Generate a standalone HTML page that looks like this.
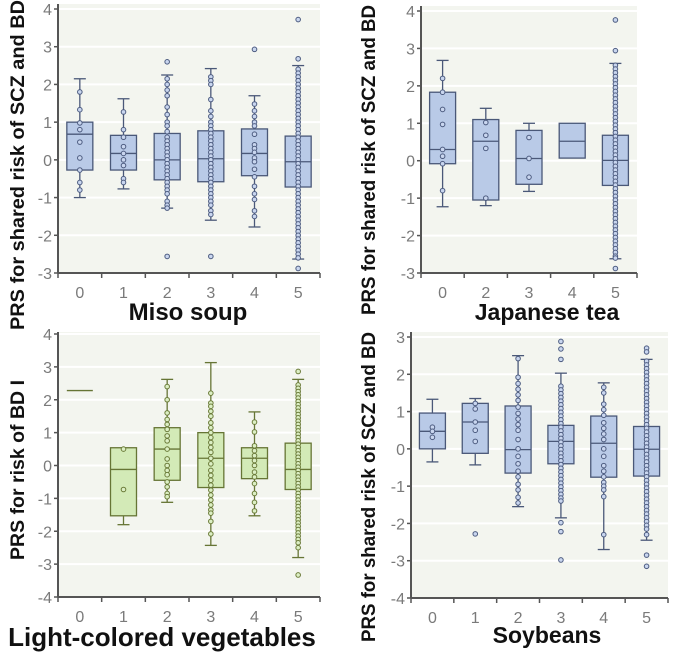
<!DOCTYPE html>
<html><head><meta charset="utf-8"><style>
html,body{margin:0;padding:0;background:#fff;width:675px;height:652px;overflow:hidden}
svg{display:block;font-family:"Liberation Sans",sans-serif}
</style></head><body>
<svg id="chart" width="675" height="652" viewBox="0 0 675 652"></svg>
<script>
// ---- Miso soup ----
const misoCats=["0","1","2","3","4","5"];
const misoQ1=[-0.27,-0.27,-0.53,-0.58,-0.42,-0.72];
const misoMed=[0.68,0.17,0.0,0.03,0.17,-0.05];
const misoQ3=[1.0,0.65,0.7,0.77,0.82,0.63];
const misoLo=[-1.0,-0.77,-1.28,-1.6,-1.78,-2.63];
const misoHi=[2.15,1.62,2.25,2.42,1.7,2.5];
const misoPts=[
[1.8,1.33,0.98,0.8,0.47,0.05,-0.27,-0.6,-0.8],
[1.27,0.8,0.6,0.35,0.17,0.0,-0.15,-0.5,-0.6],
[2.6,2.15,2.0,1.85,1.7,1.4,1.2,1.0,0.9,0.75,0.6,0.5,0.4,0.3,0.2,0.1,0.0,-0.1,-0.2,-0.3,-0.4,-0.5,-0.6,-0.7,-0.8,-0.9,-1.1,-1.2,-1.28,-2.56],
[2.2,2.1,2.0,1.6,1.3,1.15,1.0,0.9,0.8,0.7,0.6,0.5,0.4,0.3,0.2,0.1,0.0,-0.1,-0.2,-0.3,-0.4,-0.5,-0.6,-0.7,-0.8,-0.9,-1.0,-1.1,-1.2,-1.35,-1.45,-2.56],
[2.93,1.48,1.3,1.15,1.0,0.9,0.68,0.4,0.3,0.2,0.05,-0.05,-0.25,-0.45,-0.7,-0.9,-1.05,-1.35,-1.5],
[3.72,2.68,2.4,2.3,2.2,2.1,2.0,1.9,1.8,1.7,1.6,1.5,1.4,1.3,1.2,1.1,1.0,0.9,0.8,0.7,0.6,0.5,0.4,0.3,0.2,0.1,0.0,-0.1,-0.2,-0.3,-0.4,-0.5,-0.6,-0.7,-0.8,-0.9,-1.0,-1.1,-1.2,-1.3,-1.4,-1.5,-1.6,-1.7,-1.8,-1.9,-2.0,-2.1,-2.2,-2.3,-2.4,-2.5,-2.6,-2.88]];
const misoTicks=[4,3,2,1,0,-1,-2,-3];
// ---- Japanese tea ----
const teaCats=["0","2","3","4","5"];
const teaQ1=[-0.08,-1.05,-0.63,0.07,-0.66];
const teaMed=[0.3,0.52,0.06,0.52,0.01];
const teaQ3=[1.83,1.1,0.81,1.0,0.68];
const teaLo=[-1.23,-1.2,-0.82,0.07,-2.62];
const teaHi=[2.68,1.4,1.0,1.0,2.6];
const teaPts=[
[2.2,1.83,1.37,0.97,0.3,0.12,-0.08,-0.8],
[1.02,0.68,0.33,-1.0],
[0.62,0.06,-0.44],
[],
[3.76,2.94,2.55,2.45,2.35,2.25,2.15,2.05,1.95,1.85,1.75,1.65,1.55,1.45,1.35,1.25,1.15,1.05,0.95,0.85,0.75,0.65,0.55,0.45,0.35,0.25,0.15,0.05,-0.05,-0.15,-0.25,-0.35,-0.45,-0.55,-0.65,-0.75,-0.85,-0.95,-1.05,-1.15,-1.25,-1.35,-1.45,-1.55,-1.65,-1.75,-1.85,-1.95,-2.05,-2.15,-2.25,-2.35,-2.45,-2.55,-2.6,-2.88]];
const teaTicks=[4,3,2,1,0,-1,-2,-3];
// ---- Light-colored vegetables ----
const vegCats=["0","1","2","3","4","5"];
const vegQ1=[2.28,-1.53,-0.45,-0.67,-0.4,-0.73];
const vegMed=[2.28,-0.12,0.5,0.22,0.22,-0.12];
const vegQ3=[2.28,0.54,1.15,1.0,0.54,0.68];
const vegLo=[2.28,-1.8,-1.12,-2.43,-1.53,-2.8];
const vegHi=[2.28,0.54,2.62,3.13,1.63,2.62];
const vegPts=[
[],
[0.5,-0.73],
[2.4,2.0,1.6,1.4,1.25,1.1,0.9,0.75,0.5,0.2,0.0,-0.15,-0.28,-0.5,-0.65,-0.85,-0.95],
[2.2,1.9,1.8,1.65,1.5,1.3,1.15,1.0,0.85,0.7,0.55,0.4,0.22,0.05,-0.15,-0.3,-0.45,-0.6,-0.75,-0.9,-1.05,-1.2,-1.35,-1.45,-1.7,-2.08],
[1.32,1.02,0.6,0.45,0.3,0.15,0.0,-0.2,-0.35,-0.55,-0.85,-1.12,-1.38],
[2.86,2.45,2.35,2.25,2.15,2.05,1.95,1.85,1.75,1.65,1.55,1.45,1.35,1.25,1.15,1.05,0.95,0.85,0.75,0.65,0.55,0.45,0.35,0.25,0.15,0.05,-0.05,-0.15,-0.25,-0.35,-0.45,-0.55,-0.65,-0.75,-0.85,-0.95,-1.05,-1.15,-1.25,-1.35,-1.45,-1.55,-1.65,-1.75,-1.85,-1.95,-2.05,-2.15,-2.25,-2.35,-2.5,-3.33]];
const vegTicks=[4,3,2,1,0,-1,-2,-3,-4];
// ---- Soybeans ----
const soyCats=["0","1","2","3","4","5"];
const soyQ1=[0.0,-0.12,-0.65,-0.4,-0.76,-0.73];
const soyMed=[0.47,0.72,-0.02,0.2,0.15,-0.01];
const soyQ3=[0.96,1.22,1.15,0.63,0.88,0.6];
const soyLo=[-0.35,-0.43,-1.55,-1.85,-2.7,-2.45];
const soyHi=[1.33,1.35,2.5,2.03,1.77,2.4];
const soyPts=[
[0.58,0.47,0.31],
[1.22,1.07,0.72,0.5,0.2,-2.28],
[2.42,1.92,1.75,1.6,1.45,1.3,1.12,0.95,0.8,0.65,0.5,0.25,0.0,-0.2,-0.4,-0.6,-0.75,-0.95,-1.1,-1.3,-1.45],
[2.88,2.68,2.4,1.68,1.58,1.48,1.38,1.28,1.18,1.08,0.98,0.88,0.78,0.68,0.58,0.48,0.38,0.28,0.18,0.08,-0.02,-0.12,-0.22,-0.32,-0.42,-0.52,-0.62,-0.72,-0.82,-0.92,-1.02,-1.12,-1.22,-1.32,-1.4,-1.98,-2.22,-2.98],
[1.65,1.5,1.2,1.05,0.9,0.7,0.55,0.4,0.25,0.0,-0.2,-0.45,-0.6,-0.75,-0.9,-1.0,-1.1,-1.28,-2.3],
[2.7,2.6,2.35,2.25,2.15,2.05,1.95,1.85,1.75,1.65,1.55,1.45,1.35,1.25,1.15,1.05,0.95,0.85,0.75,0.65,0.55,0.45,0.35,0.25,0.15,0.05,-0.05,-0.15,-0.25,-0.35,-0.45,-0.55,-0.65,-0.75,-0.85,-0.95,-1.05,-1.15,-1.25,-1.35,-1.45,-1.55,-1.65,-1.75,-1.85,-1.95,-2.05,-2.15,-2.3,-2.85,-3.15]];
const soyTicks=[3,2,1,0,-1,-2,-3,-4];

const NS="http://www.w3.org/2000/svg";
const svg=document.getElementById('chart');
function mk(tag,attrs,parent,text){const e=document.createElementNS(NS,tag);for(const k in attrs)e.setAttribute(k,attrs[k]);if(text!==undefined)e.textContent=text;(parent||svg).appendChild(e);return e;}

const blue={fill:"#b9cae7",stroke:"#4a5878",dot:"#c9d6ef",dotS:"#4d5c80"};
const green={fill:"#d3eab7",stroke:"#667535",dot:"#dcefc4",dotS:"#6a7a38"};

function panel(o){
  const g=mk('g',{});
  
  
  const ymax=o.ticks[0], ymin=o.ticks[o.ticks.length-1];
  const Y=v=>o.yTop+(ymax-v)/(ymax-ymin)*(o.yBot-o.yTop);
  const n=o.cats.length, w=(o.x1-o.x0)/n;
  const X=i=>o.x0+(i+0.5)*w;
  const bg=mk('rect',{x:o.x0,y:o.bgTop,width:o.x1-o.x0,height:o.yBot-o.bgTop,fill:"#f3f5ef"},g);
  
  o.ticks.forEach(t=>{
    if(t!==ymin){const gl=mk('line',{x1:o.x0,x2:o.x1,y1:Y(t),y2:Y(t),stroke:"#fff","stroke-width":2},g);
    }
    mk('line',{x1:o.x0-4,x2:o.x0,y1:Y(t),y2:Y(t),stroke:"#555","stroke-width":1.5},g);
    const tl=mk('text',{x:o.x0-6,y:Y(t)+6,"text-anchor":"end","font-size":16,fill:"#7a7a7a"},g,String(t));
    
  });
  const ya=mk('line',{x1:o.x0,x2:o.x0,y1:o.bgTop,y2:o.yBot,stroke:"#555","stroke-width":2},g);
  
  const xa=mk('line',{x1:o.x0,x2:o.x1,y1:o.yBot,y2:o.yBot,stroke:"#555","stroke-width":2},g);
  
  for(let i=0;i<=n;i++) mk('line',{x1:o.x0+i*w,x2:o.x0+i*w,y1:o.yBot,y2:o.yBot+5,stroke:"#555","stroke-width":1.5},g);
  const c=o.col, bw=26, cap=6;
  o.cats.forEach((cat,i)=>{
    const cx=X(i);
    const xl=mk('text',{x:cx,y:o.yBot+25,"text-anchor":"middle","font-size":16,fill:"#7a7a7a"},g,cat);
    
    const bx=mk('g',{},g);
    
    if(o.hi[i]>o.q3[i]){mk('line',{x1:cx,x2:cx,y1:Y(o.q3[i]),y2:Y(o.hi[i]),stroke:c.stroke,"stroke-width":1.3},bx);
      mk('line',{x1:cx-cap,x2:cx+cap,y1:Y(o.hi[i]),y2:Y(o.hi[i]),stroke:c.stroke,"stroke-width":1.3},bx);}
    if(o.lo[i]<o.q1[i]){mk('line',{x1:cx,x2:cx,y1:Y(o.q1[i]),y2:Y(o.lo[i]),stroke:c.stroke,"stroke-width":1.3},bx);
      mk('line',{x1:cx-cap,x2:cx+cap,y1:Y(o.lo[i]),y2:Y(o.lo[i]),stroke:c.stroke,"stroke-width":1.3},bx);}
    if(o.q3[i]>o.q1[i]) mk('rect',{x:cx-bw/2,y:Y(o.q3[i]),width:bw,height:Y(o.q1[i])-Y(o.q3[i]),fill:c.fill,stroke:c.stroke,"stroke-width":1.3},bx);
    mk('line',{x1:cx-bw/2,x2:cx+bw/2,y1:Y(o.med[i]),y2:Y(o.med[i]),stroke:c.stroke,"stroke-width":1.3},bx);
    o.pts[i].forEach(v=>{
      const p=mk('circle',{cx:cx,cy:Y(v),r:2.3,fill:c.dot,stroke:c.dotS,"stroke-width":1},bx);
      
    });
  });
  const xt=mk('text',{x:o.titleX,y:o.titleY,"text-anchor":"middle","font-size":o.titleSize,"font-weight":"bold",fill:"#111"},g,o.title);
  
  const yt=mk('text',{x:0,y:0,"text-anchor":"middle","font-size":o.ytSize,"font-weight":"bold",fill:"#111",transform:`translate(${o.ytX},${o.ytY}) rotate(-90)`},g,o.ytitle);
  if(o.ytLen){yt.setAttribute('textLength',o.ytLen);yt.setAttribute('lengthAdjust','spacingAndGlyphs');}
  
}

panel({name:'miso-soup-panel',cats:misoCats,q1:misoQ1,med:misoMed,q3:misoQ3,lo:misoLo,hi:misoHi,pts:misoPts,ticks:misoTicks,
  x0:58,x1:320,yTop:9,yBot:273,bgTop:4,col:blue,title:"Miso soup",titleX:188,titleY:320,titleSize:24,
  ytitle:"PRS for shared risk of SCZ and BD",ytX:24,ytY:165,ytSize:19,ytLen:330});
panel({name:'japanese-tea-panel',cats:teaCats,q1:teaQ1,med:teaMed,q3:teaQ3,lo:teaLo,hi:teaHi,pts:teaPts,ticks:teaTicks,
  x0:421,x1:637,yTop:11,yBot:273,bgTop:6,col:blue,title:"Japanese tea",titleX:547,titleY:320,titleSize:23,
  ytitle:"PRS for shared risk of SCZ and BD",ytX:375,ytY:160,ytSize:19,ytLen:310});
panel({name:'light-vegetables-panel',cats:vegCats,q1:vegQ1,med:vegMed,q3:vegQ3,lo:vegLo,hi:vegHi,pts:vegPts,ticks:vegTicks,
  x0:58,x1:320,yTop:334,yBot:597,bgTop:332,col:green,title:"Light-colored vegetables",titleX:162,titleY:646,titleSize:26,
  ytitle:"PRS for risk of BD I",ytX:24,ytY:470,ytSize:19,ytLen:180});
panel({name:'soybeans-panel',cats:soyCats,q1:soyQ1,med:soyMed,q3:soyQ3,lo:soyLo,hi:soyHi,pts:soyPts,ticks:soyTicks,
  x0:411,x1:668,yTop:337,yBot:598,bgTop:332,col:blue,title:"Soybeans",titleX:547,titleY:643,titleSize:23,
  ytitle:"PRS for shared risk of SCZ and BD",ytX:375,ytY:487,ytSize:19,ytLen:310});
</script>
</body></html>
